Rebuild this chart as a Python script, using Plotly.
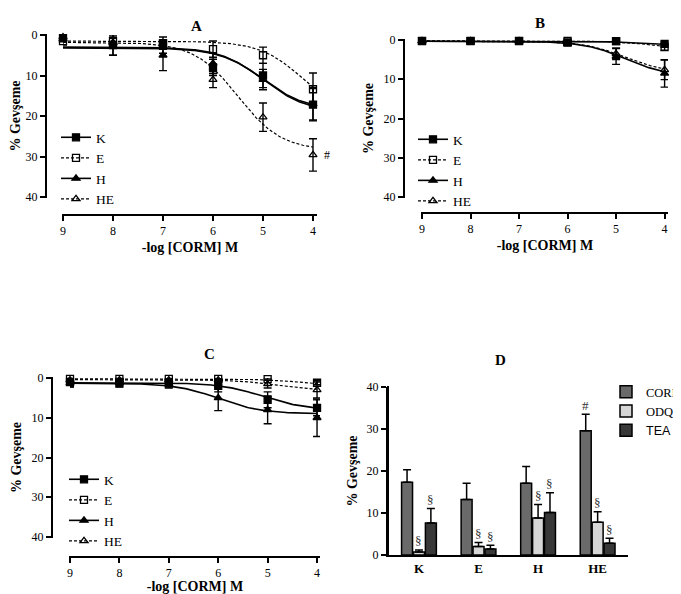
import numpy as np
import plotly.graph_objects as go

# The page body has an 8px margin, so the figure is sized to the remaining area
PAGE_OFF = 8
W, H = 681 - PAGE_OFF, 594 - PAGE_OFF
SERIF = "Liberation Serif, Times New Roman, serif"

doses = [9, 8, 7, 6, 5, 4]
dose_labels = ["9", "8", "7", "6", "5", "4"]
series_names = ["K", "E", "H", "HE"]

# ---- Panel A ----
a_K = [0.8, 2.5, 2.0, 8.0, 10.0, 17.2]
a_K_err = [0.5, 2.5, 1.5, 2.0, 3.0, 4.0]
a_E = [1.5, 1.5, 2.2, 3.5, 5.0, 13.4]
a_E_err = [1.0, 1.0, 1.0, 2.0, 2.0, 4.0]
a_H = [0.5, 2.0, 5.0, 7.0, 11.0, 17.0]
a_H_err = [0.5, 3.0, 3.8, 2.5, 2.5, 4.0]
a_HE = [1.0, 1.8, 3.0, 11.0, 20.3, 29.6]
a_HE_err = [0.8, 1.0, 1.5, 2.0, 3.5, 4.0]
a_fit_bottom = [3.0, 1.5, 3.2, 1.8]
a_fit_top = [19.0, 20.0, 18.6, 28.5]
a_fit_pec50 = [5.0, 4.2, 5.0, 5.5]

# ---- Panel B ----
b_K = [0.3, 0.3, 0.3, 0.6, 0.3, 1.0]
b_K_err = [0.3, 0.3, 0.3, 0.4, 0.3, 0.5]
b_E = [0.2, 0.2, 0.2, 0.2, 0.3, 1.8]
b_E_err = [0.2, 0.2, 0.2, 0.2, 0.3, 0.8]
b_H = [0.3, 0.3, 0.3, 1.0, 4.2, 8.5]
b_H_err = [0.3, 0.3, 0.3, 0.5, 2.0, 3.5]
b_HE = [0.3, 0.3, 0.3, 0.8, 3.5, 7.6]
b_HE_err = [0.3, 0.3, 0.3, 0.5, 1.5, 2.5]
b_fit_bottom = [0.3, 0.2, 0.3, 0.3]
b_fit_top = [1.5, 2.5, 9.3, 8.5]
b_fit_pec50 = [4.3, 4.2, 4.8, 4.8]

# ---- Panel C ----
c_K = [1.0, 1.0, 1.3, 2.0, 5.5, 7.5]
c_K_err = [1.2, 1.2, 1.0, 1.5, 2.0, 2.0]
c_E = [0.2, 0.2, 0.2, 0.2, 0.3, 1.2]
c_E_err = [0.2, 0.2, 0.2, 0.2, 0.3, 0.5]
c_H = [1.3, 1.3, 1.5, 5.0, 8.0, 10.0]
c_H_err = [1.0, 1.0, 1.0, 3.2, 3.5, 4.7]
c_HE = [0.5, 0.5, 0.5, 0.5, 1.5, 3.0]
c_HE_err = [0.3, 0.3, 0.3, 0.3, 1.0, 2.0]
c_fit_bottom = [1.2, 0.2, 1.3, 0.4]
c_fit_top = [8.0, 2.0, 9.0, 3.2]
c_fit_pec50 = [5.1, 4.3, 6.0, 4.8]

# ---- Panel D ----
d_groups = ["K", "E", "H", "HE"]
d_treat = ["CORM", "ODQ", "TEA"]
d_CORM = [17.3, 13.2, 17.1, 29.6]
d_CORM_err = [3.0, 3.9, 4.0, 3.9]
d_ODQ = [0.7, 2.0, 8.8, 7.8]
d_ODQ_err = [0.5, 1.0, 3.2, 2.5]
d_TEA = [7.6, 1.4, 10.1, 2.8]
d_TEA_err = [3.5, 0.9, 4.7, 1.2]
d_ODQ_mark = ["§", "§", "§", "§"]
d_TEA_mark = ["§", "§", "§", "§"]
d_CORM_mark = ["", "", "", "#"]
d_colors = ["#6a6a6a", "#d6d6d6", "#383838"]


def fx(px):
    return (px - PAGE_OFF) / W


def fy(py):
    return 1 - (py - PAGE_OFF) / H


styles = {
    "K": dict(symbol="square", dash="solid", lw=1.6),
    "E": dict(symbol="square-open", dash="3px,2px", lw=1.2),
    "H": dict(symbol="triangle-up", dash="solid", lw=1.6),
    "HE": dict(symbol="triangle-up-open", dash="3px,2px", lw=1.2),
}

fig = go.Figure()


def add_curve_panel(n, means, errs, bottoms, tops, pec50s, legend_name):
    xa = "x" if n == 1 else f"x{n}"
    ya = "y" if n == 1 else f"y{n}"
    xs = np.linspace(9, 4, 200)
    for i, name in enumerate(series_names):
        st = styles[name]
        ys = bottoms[i] + (tops[i] - bottoms[i]) / (1 + 10 ** (xs - pec50s[i]))
        fig.add_trace(go.Scatter(
            x=xs, y=ys, mode="lines", xaxis=xa, yaxis=ya,
            line=dict(color="black", width=st["lw"], dash=st["dash"]),
            showlegend=False, hoverinfo="skip", cliponaxis=False))
    for i, name in enumerate(series_names):
        st = styles[name]
        fig.add_trace(go.Scatter(
            x=doses, y=means[i], mode="markers", xaxis=xa, yaxis=ya,
            marker=dict(symbol=st["symbol"], size=7, color="black",
                        line=dict(color="black", width=1.3)),
            error_y=dict(type="data", array=errs[i], color="black",
                         thickness=1.4, width=4),
            showlegend=False, cliponaxis=False))
    for i, name in enumerate(series_names):
        st = styles[name]
        fig.add_trace(go.Scatter(
            x=[None], y=[None], mode="lines+markers", name=name,
            xaxis=xa, yaxis=ya, legend=legend_name,
            line=dict(color="black", width=st["lw"], dash=st["dash"]),
            marker=dict(symbol=st["symbol"], size=7, color="black",
                        line=dict(color="black", width=1.3))))


add_curve_panel(1, [a_K, a_E, a_H, a_HE], [a_K_err, a_E_err, a_H_err, a_HE_err],
                a_fit_bottom, a_fit_top, a_fit_pec50, "legend")
add_curve_panel(2, [b_K, b_E, b_H, b_HE], [b_K_err, b_E_err, b_H_err, b_HE_err],
                b_fit_bottom, b_fit_top, b_fit_pec50, "legend2")
add_curve_panel(3, [c_K, c_E, c_H, c_HE], [c_K_err, c_E_err, c_H_err, c_HE_err],
                c_fit_bottom, c_fit_top, c_fit_pec50, "legend3")

# Panel D bars
d_vals = [d_CORM, d_ODQ, d_TEA]
d_errs = [d_CORM_err, d_ODQ_err, d_TEA_err]
for j, t in enumerate(d_treat):
    nm = t if t != "TEA" else "<span style='font-family:Liberation Sans, Arial'>TEA</span>"
    fig.add_trace(go.Bar(
        x=d_groups, y=d_vals[j], name=nm, xaxis="x4", yaxis="y4",
        legend="legend4",
        marker=dict(color=d_colors[j], line=dict(color="black", width=1.5)),
        error_y=dict(type="data", array=d_errs[j], symmetric=False,
                     arrayminus=[0] * 4, color="black", thickness=1.5, width=4)))

axis_font = dict(family=SERIF, size=12, color="black")
title_font = dict(family=SERIF, size=14, color="black")
tick_style = dict(ticks="outside", ticklen=5, tickwidth=2, tickcolor="black",
                  showgrid=False, zeroline=False, tickfont=axis_font)

axis_line_shapes = []


def add_axis_line(x0, y0, x1, y1):
    axis_line_shapes.append(dict(type="line", xref="paper", yref="paper",
                                 layer="above",
                                 x0=fx(x0), x1=fx(x1), y0=fy(y0), y1=fy(y1),
                                 line=dict(color="black", width=2)))


def curve_axes(n, xpx, ypx, yaxis_xpx, xaxis_ypx, xrange):
    """Detached (Prism-style) axes: free-positioned axes plus their lines."""
    xk = "xaxis" if n == 1 else f"xaxis{n}"
    yk = "yaxis" if n == 1 else f"yaxis{n}"
    add_axis_line(xpx[0] - 1, xaxis_ypx, xpx[1], xaxis_ypx)
    add_axis_line(yaxis_xpx, ypx[0] - 1, yaxis_xpx, ypx[1] + 1)
    return {
        xk: dict(domain=[fx(xpx[0]), fx(xpx[1])], range=xrange, anchor="free",
                 position=fy(xaxis_ypx), tickvals=doses, ticktext=dose_labels,
                 showline=True, linewidth=2, linecolor="black", **tick_style,
                 title=dict(text="<b>-log [CORM] M</b>", font=title_font, standoff=4)),
        yk: dict(domain=[fy(ypx[1]), fy(ypx[0])], range=[40, 0], anchor="free",
                 position=fx(yaxis_xpx), tickvals=[0, 10, 20, 30, 40],
                 showline=True, linewidth=2, linecolor="black", **tick_style,
                 title=dict(text="<b>% Gevşeme</b>", font=title_font, standoff=6)),
    }


layout = dict(
    width=W, height=H, margin=dict(l=0, r=0, t=0, b=0, autoexpand=False),
    paper_bgcolor="white", plot_bgcolor="rgba(0,0,0,0)",
    barmode="group", bargap=0.4, bargroupgap=0.08,
    font=dict(family=SERIF, color="black"),
)
layout.update(curve_axes(1, (63, 317), (35, 197), 46, 215, [9, 3.92]))
layout.update(curve_axes(2, (422, 668), (40, 197), 404, 213, [9, 3.93]))
layout.update(curve_axes(3, (70, 320), (378, 537), 52, 557, [9, 3.94]))
layout["xaxis4"] = dict(domain=[fx(388), fx(628)], range=[-0.52, 3.51], anchor="y4",
                        showline=True, linewidth=2, linecolor="black",
                        ticks="", showgrid=False, zeroline=False,
                        tickfont=dict(family=SERIF, size=13, color="black"),
                        tickvals=d_groups, ticktext=[f"<b>{g}</b>" for g in d_groups])
layout["yaxis4"] = dict(domain=[fy(555), fy(387)], range=[0, 40], anchor="x4",
                        tickvals=[0, 10, 20, 30, 40], showline=True, linewidth=2,
                        linecolor="black", **tick_style,
                        title=dict(text="<b>% Gevşeme</b>", font=title_font, standoff=6))
add_axis_line(388, 386, 388, 556)
layout["shapes"] = axis_line_shapes

leg_common = dict(bgcolor="rgba(0,0,0,0)", tracegroupgap=0, itemwidth=30,
                  xanchor="left", yanchor="top")
leg_font = dict(family=SERIF, size=13.5, color="black")
layout["legend"] = dict(x=fx(56), y=fy(122), font=leg_font, **leg_common)
layout["legend2"] = dict(x=fx(413), y=fy(124), font=leg_font, **leg_common)
layout["legend3"] = dict(x=fx(64), y=fy(464), font=leg_font, **leg_common)
layout["legend4"] = dict(x=fx(606), y=fy(377),
                         font=dict(family=SERIF, size=12.5, color="black"), **leg_common)

fig.update_layout(**layout)

# Panel titles
for txt, x, y in [("A", 189, 16), ("B", 547, 13), ("C", 202, 354), ("D", 508, 360)]:
    fig.add_annotation(text=f"<b>{txt}</b>", x=fx(x), y=fy(y), xref="paper", yref="paper",
                       showarrow=False, font=dict(family=SERIF, size=15, color="black"))

# '#' in panel A
fig.add_annotation(text="#", x=4, y=a_HE[5], xref="x", yref="y", xshift=14,
                   showarrow=False, font=dict(family=SERIF, size=12, color="black"))

# Significance marks in panel D
slot = (628 - 388) / (3.51 + 0.52) * (1 - 0.4) / 3
marks = [d_CORM_mark, d_ODQ_mark, d_TEA_mark]
for j in range(3):
    for i, g in enumerate(d_groups):
        if marks[j][i]:
            fig.add_annotation(text=marks[j][i], x=g, y=d_vals[j][i] + d_errs[j][i],
                               xref="x4", yref="y4", xshift=(j - 1) * slot, yshift=9,
                               showarrow=False,
                               font=dict(family=SERIF, size=13, color="#333333"))

fig.write_html("out.html")
